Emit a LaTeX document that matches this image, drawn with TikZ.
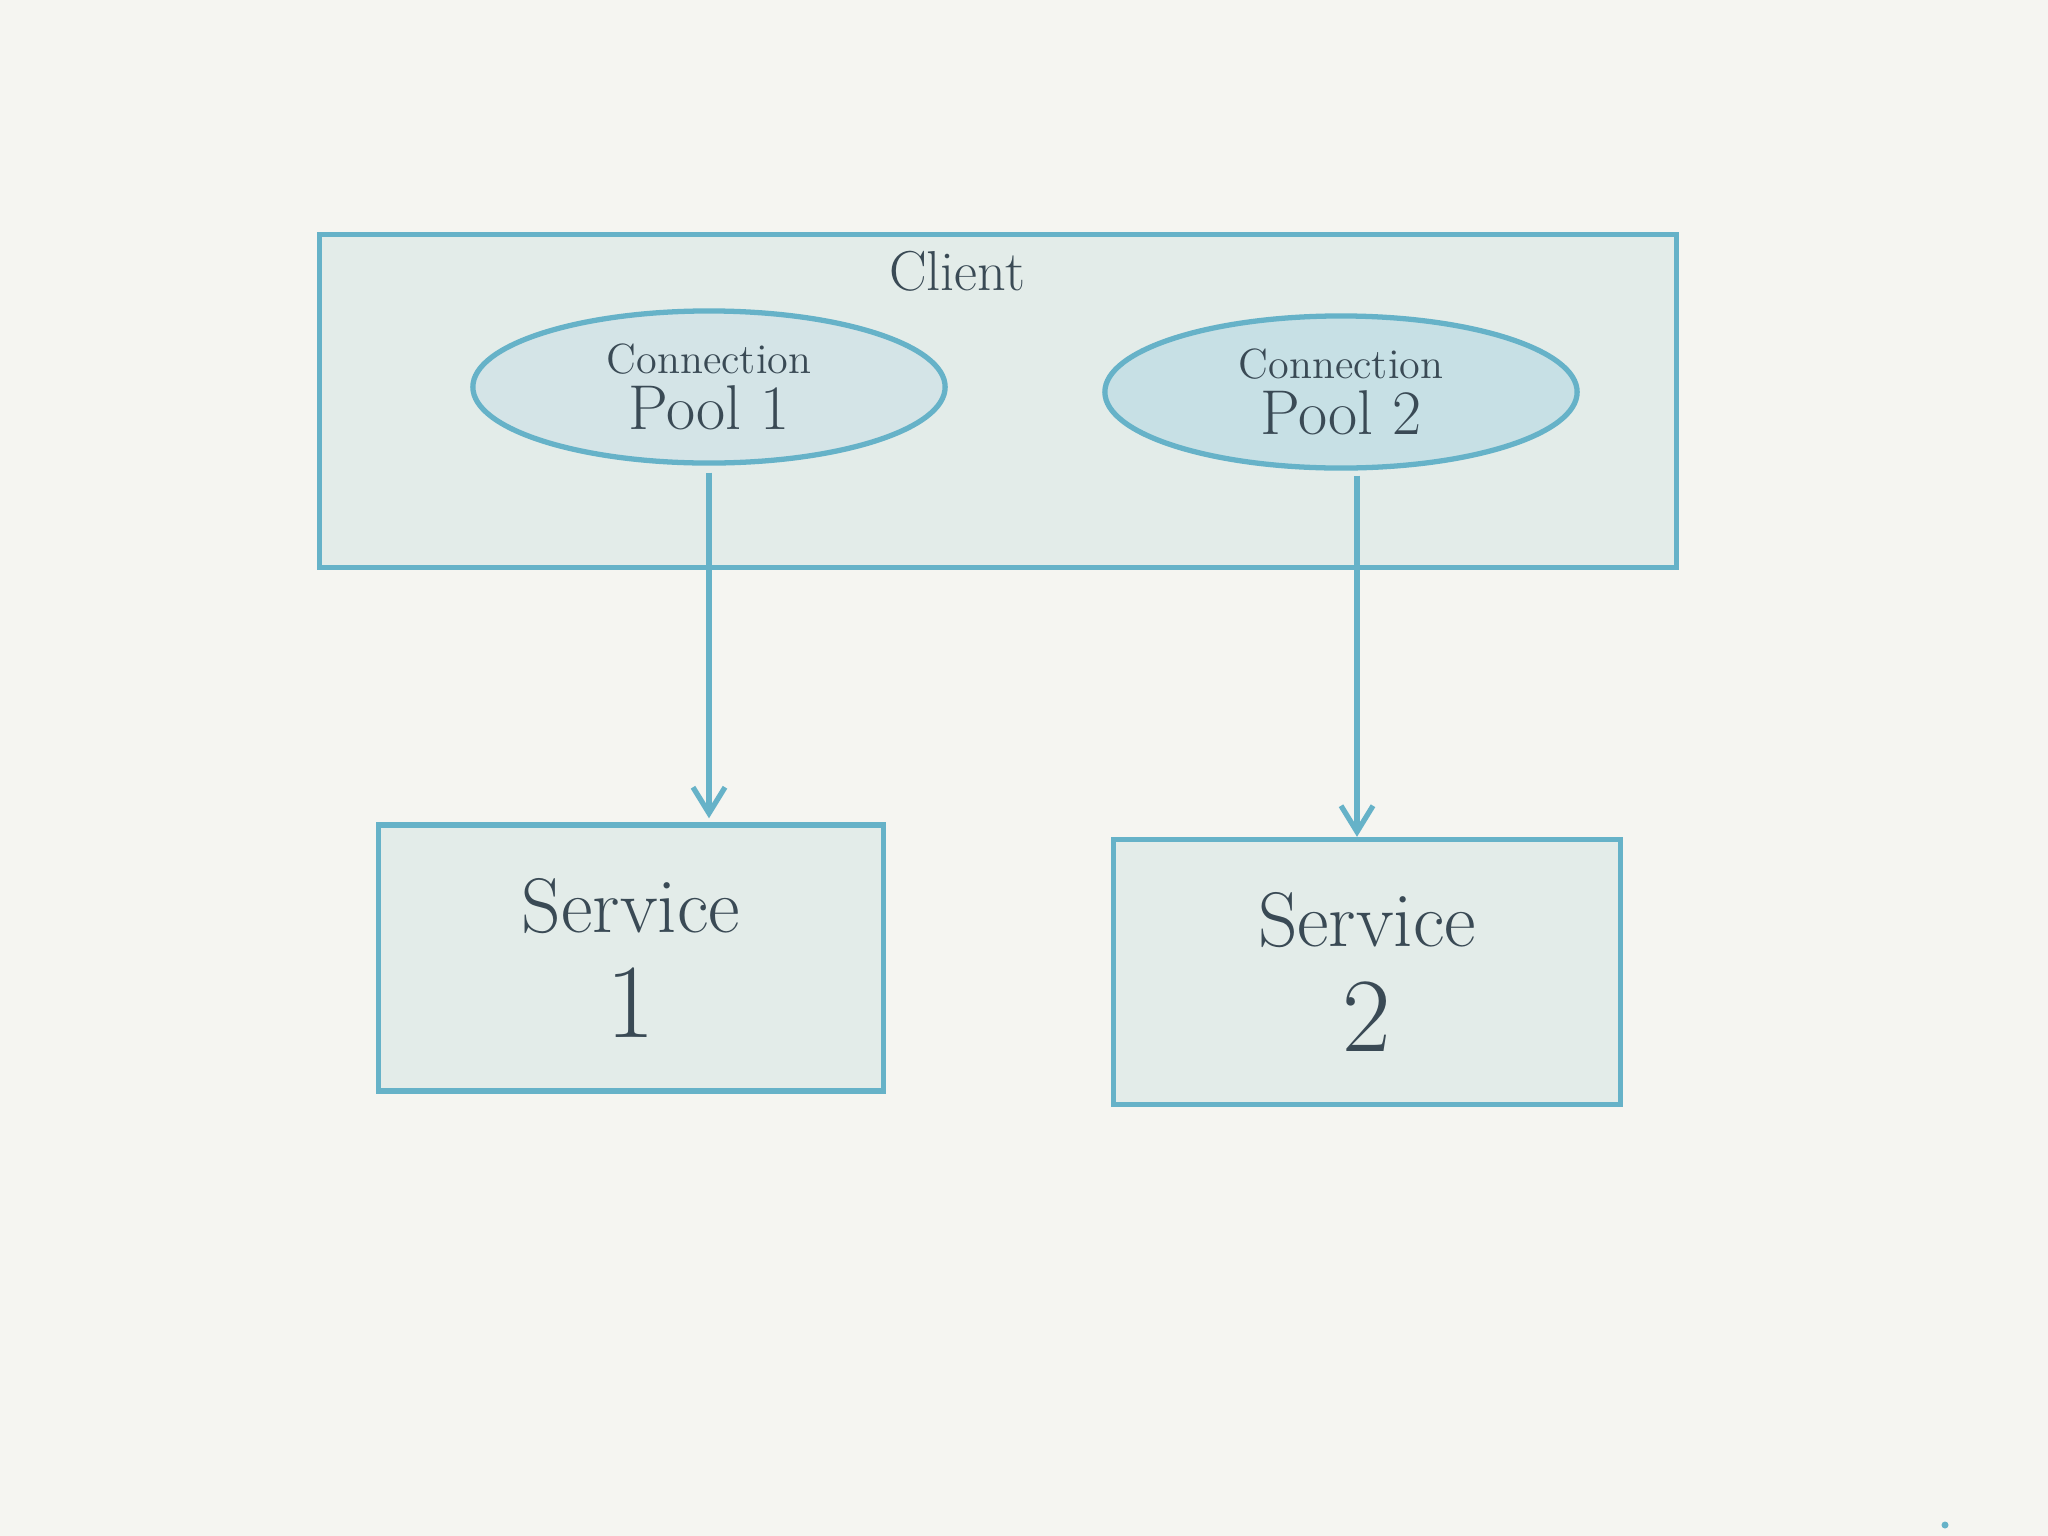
\documentclass[tikz,border=0pt]{standalone}
\usetikzlibrary{shapes.geometric, arrows.meta, positioning}

\definecolor{paper}{HTML}{F5F5F1}
\definecolor{pen}{HTML}{66B2C8}
\definecolor{boxfill}{HTML}{E3ECE9}
\definecolor{poolfill}{HTML}{D4E4E7}
\definecolor{poolfillb}{HTML}{C7E0E5}
\definecolor{ink}{HTML}{3A4A55}

\begin{document}
\begin{tikzpicture}[
    x=0.01cm, y=-0.01cm,
    line width=1.5pt,
    box/.style={rectangle, draw=pen, fill=boxfill, align=center, text=ink},
    pool/.style={ellipse, draw=pen, minimum width=4.72cm, minimum height=1.52cm, inner sep=0pt, align=center, text=ink, font=\fontsize{12}{14}\selectfont},
    label/.style={text=ink, font=\fontsize{16}{18}\selectfont},
    arrow/.style={draw=pen, -{Straight Barb[length=2.6mm, width=3.2mm, line width=1.5pt]}},
]
\useasboundingbox[fill=paper] (0,0) rectangle (2048,1536);

% client with its two pools
\node[box, minimum width=13.56cm, minimum height=3.33cm] (client) at (998,401) {};
\node[label] (clientlbl) at (957,271) {Client};

\node[pool, fill=poolfill] (p1) at (709,387) {Connection\\[2pt]{\fontsize{18}{20}\selectfont Pool 1}};
\node[pool, fill=poolfillb] (p2) at (1341,392) {Connection\\[2pt]{\fontsize{18}{20}\selectfont Pool 2}};

% services
\node[box, minimum width=5.05cm, minimum height=2.66cm, font=\fontsize{22}{26}\selectfont] (s1) at (631,958) {Service\\[4pt]{\fontsize{30}{32}\selectfont 1}};
\node[box, minimum width=5.07cm, minimum height=2.65cm, font=\fontsize{22}{26}\selectfont] (s2) at (1367,972) {Service\\[4pt]{\fontsize{30}{32}\selectfont 2}};

\draw[arrow] ([yshift=-0.07cm]p1.south) -- ([yshift=0.04cm]p1.south |- s1.north);
\draw[arrow] ([xshift=0.16cm,yshift=-0.05cm]p2.south) -- ([xshift=0.16cm]p2.south |- s2.north);

% stray dot
\fill[pen] (1945,1525) circle (3.5);
\end{tikzpicture}
\end{document}
